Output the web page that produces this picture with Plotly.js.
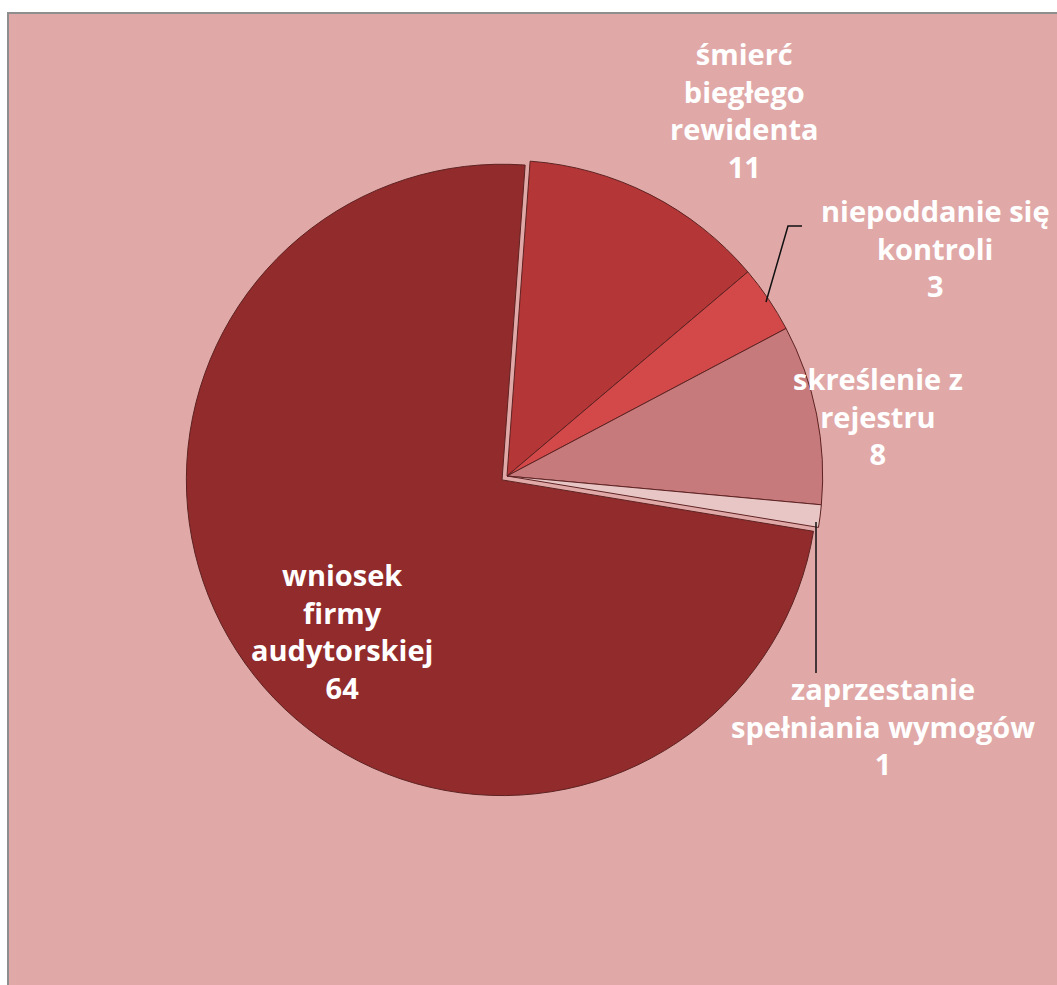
<!DOCTYPE html>
<html>
<head>
<meta charset="utf-8">
<script src="https://cdn.plot.ly/plotly-3.0.1.min.js"></script>
<style>html,body{margin:0;padding:0;background:#fff;}#chart{width:1057px;height:985px;}</style>
</head>
<body>
<div id="chart"></div>
<script>
// Data
const labels = ["śmierć<br>biegłego<br>rewidenta", "niepoddanie się<br>kontroli", "skreślenie z<br>rejestru", "zaprzestanie<br>spełniania wymogów", "wniosek<br>firmy<br>audytorskiej"];
const values = [11, 3, 8, 1, 64];
const colors = ["#b43636", "#d34848", "#c67a7b", "#e9c6c6", "#922b2b"];

const W = 1057, H = 985;
const px = x => x / W;
const py = y => 1 - y / H;

// label placement (pixels in the 1057x985 frame)
const labelPos = [[744, 110], [935, 248], [878, 416], [883, 726], [342, 631]];

const annotations = labels.map((l, i) => ({
  text: l + "<br>" + values[i],
  x: px(labelPos[i][0]), y: py(labelPos[i][1]),
  xref: "paper", yref: "paper", xanchor: "center", yanchor: "middle",
  showarrow: false,
  font: {family: "Open Sans", size: 29, color: "#ffffff", weight: 700}
}));

const trace = {
  type: "pie",
  labels: labels,
  values: values,
  sort: false,
  direction: "clockwise",
  rotation: 4.2,
  pull: [0, 0, 0, 0, 0.02],
  marker: {colors: colors, line: {color: "#5e2222", width: 1}},
  textinfo: "none",
  hoverinfo: "label+value",
  showlegend: false,
  domain: {x: [px(185), px(829)], y: [py(798), py(154)]}
};

const layout = {
  width: W, height: H,
  margin: {l: 0, r: 0, t: 0, b: 0},
  paper_bgcolor: "#ffffff",
  plot_bgcolor: "#ffffff",
  showlegend: false,
  annotations: annotations,
  shapes: [
    {type: "rect", xref: "paper", yref: "paper", layer: "below",
     x0: px(8), x1: 1.02, y0: -0.02, y1: py(13),
     fillcolor: "#e0a9a8", line: {color: "#8e8e8e", width: 2}},
    {type: "path", xref: "paper", yref: "paper", layer: "above",
     path: `M ${px(766)} ${py(302)} L ${px(788)} ${py(226)} L ${px(802)} ${py(226)}`,
     line: {color: "#111111", width: 1.5}},
    {type: "line", xref: "paper", yref: "paper", layer: "above",
     x0: px(816), x1: px(816), y0: py(522), y1: py(673),
     line: {color: "#111111", width: 1.5}}
  ]
};

Plotly.newPlot("chart", [trace], layout, {displayModeBar: false, staticPlot: true});
</script>
</body>
</html>
